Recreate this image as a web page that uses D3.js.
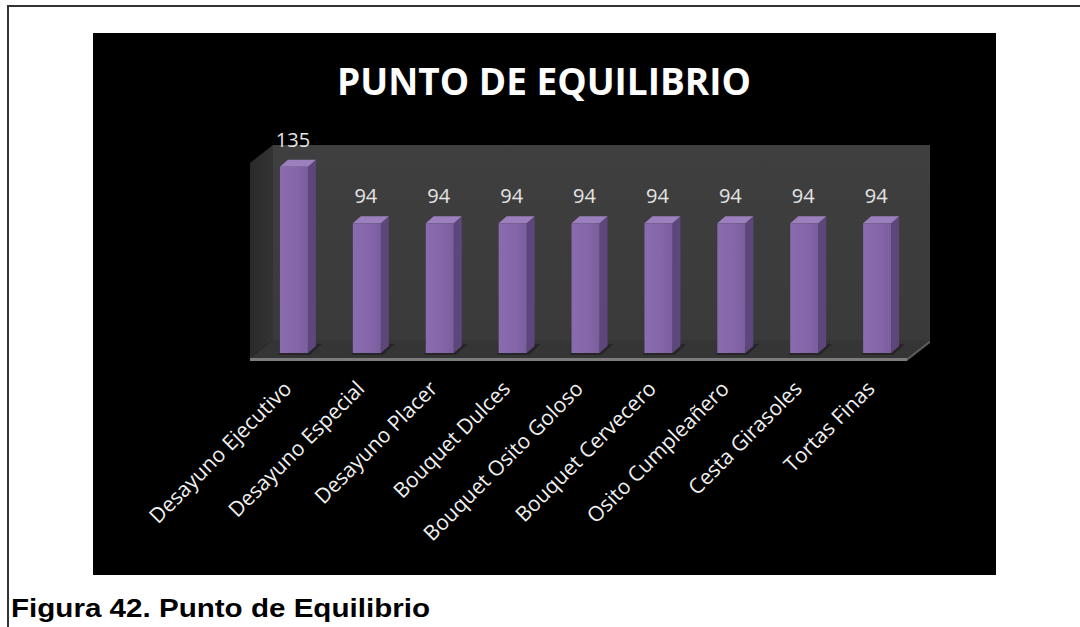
<!DOCTYPE html>
<html>
<head>
<meta charset="utf-8">
<script src="https://cdn.jsdelivr.net/npm/d3@7"></script>
<style>
  html, body { margin: 0; padding: 0; background: #ffffff; }
  svg { display: block; }
</style>
</head>
<body>
<svg id="fig" width="1080" height="627"></svg>
<script>
// Product lines and their break-even quantities
const categories = [
  "Desayuno Ejecutivo", "Desayuno Especial", "Desayuno Placer",
  "Bouquet Dulces", "Bouquet Osito Goloso", "Bouquet Cervecero",
  "Osito Cumpleañero", "Cesta Girasoles", "Tortas Finas"
];
const values = [135, 94, 94, 94, 94, 94, 94, 94, 94];
const axisMax = [150];

const chartTitle = "PUNTO DE EQUILIBRIO";
const caption = "Figura 42. Punto de Equilibrio";

const svg = d3.select("#fig");

// Page frame lines
svg.append("line").attr("x1", 7).attr("x2", 1080).attr("y1", 6).attr("y2", 6)
  .attr("stroke", "#333").attr("stroke-width", 2);
svg.append("line").attr("x1", 8).attr("x2", 8).attr("y1", 5).attr("y2", 627)
  .attr("stroke", "#333").attr("stroke-width", 2);

// Black chart canvas
svg.append("rect").attr("x", 93).attr("y", 33).attr("width", 903).attr("height", 542)
  .attr("fill", "#000");

// Scales
const x = d3.scaleBand().domain(categories).range([257.5, 913.6]).paddingInner(0).paddingOuter(0);
const y = d3.scaleLinear().domain([0, axisMax[0]]).range([353, 146]);

const barW = 28;
const depth = { dx: 23, dy: -18 };   // depth of the plot box
const barDepth = { dx: 8, dy: -7 };  // depth of each column

const frontLeft = x.range()[0] - 7.5;
const frontRight = x.range()[1] - 6.6;
const floorFront = 358;
const floorBack = floorFront + depth.dy;
const wallTop = y(axisMax[0]) - 1;

const defs = svg.append("defs");
const wallGrad = defs.append("linearGradient").attr("id", "wallGrad")
  .attr("x1", 0).attr("y1", 0).attr("x2", 0).attr("y2", 1);
wallGrad.append("stop").attr("offset", 0).attr("stop-color", "#3f3f3f");
wallGrad.append("stop").attr("offset", 1).attr("stop-color", "#3a3a3a");

const sideGrad = defs.append("linearGradient").attr("id", "sideGrad")
  .attr("x1", 0).attr("y1", 0).attr("x2", 1).attr("y2", 0);
sideGrad.append("stop").attr("offset", 0).attr("stop-color", "#2a2a2a");
sideGrad.append("stop").attr("offset", 1).attr("stop-color", "#333333");

const frontGrad = defs.append("linearGradient").attr("id", "barFront")
  .attr("x1", 0).attr("y1", 0).attr("x2", 1).attr("y2", 0);
frontGrad.append("stop").attr("offset", 0).attr("stop-color", "#8a6cae");
frontGrad.append("stop").attr("offset", 0.6).attr("stop-color", "#8566a9");
frontGrad.append("stop").attr("offset", 1).attr("stop-color", "#7b5e9e");

const poly = pts => pts.map(p => p.join(",")).join(" ");

// Back wall
svg.append("polygon")
  .attr("points", poly([
    [frontLeft + depth.dx, wallTop], [frontRight + depth.dx, wallTop],
    [frontRight + depth.dx, floorBack], [frontLeft + depth.dx, floorBack]
  ]))
  .attr("fill", "url(#wallGrad)");

// Left side wall
svg.append("polygon")
  .attr("points", poly([
    [frontLeft, wallTop - depth.dy], [frontLeft + depth.dx, wallTop],
    [frontLeft + depth.dx, floorBack], [frontLeft, floorFront]
  ]))
  .attr("fill", "url(#sideGrad)");

// Floor
svg.append("polygon")
  .attr("points", poly([
    [frontLeft, floorFront], [frontLeft + depth.dx, floorBack],
    [frontRight + depth.dx, floorBack], [frontRight, floorFront]
  ]))
  .attr("fill", "#353535");

// Floor front edge and right edge
svg.append("rect").attr("x", frontLeft).attr("y", floorFront)
  .attr("width", frontRight - frontLeft).attr("height", 3).attr("fill", "#7c7c7c");
svg.append("polygon")
  .attr("points", poly([
    [frontRight, floorFront], [frontRight + depth.dx, floorBack],
    [frontRight + depth.dx, floorBack + 3], [frontRight, floorFront + 3]
  ]))
  .attr("fill", "#5a5a5a");

// Columns
const bars = svg.append("g").selectAll("g.bar")
  .data(categories.map((c, i) => ({ c, v: values[i] })))
  .join("g").attr("class", "bar");

const cx = d => x(d.c) + x.bandwidth() / 2;
const x0 = d => cx(d) - barW / 2;

// soft shadow on the floor
bars.append("polygon")
  .attr("points", d => poly([
    [x0(d) - 2, y(0) + 2], [x0(d) + barW + 2, y(0) + 2],
    [x0(d) + barW + barDepth.dx + 6, y(0) + barDepth.dy - 2], [x0(d) + barDepth.dx, y(0) + barDepth.dy - 2]
  ]))
  .attr("fill", "#262626");

bars.append("polygon") // right side
  .attr("points", d => poly([
    [x0(d) + barW, y(d.v)], [x0(d) + barW + barDepth.dx, y(d.v) + barDepth.dy],
    [x0(d) + barW + barDepth.dx, y(0) + barDepth.dy], [x0(d) + barW, y(0)]
  ]))
  .attr("fill", "#5c467b");

bars.append("polygon") // top
  .attr("points", d => poly([
    [x0(d), y(d.v)], [x0(d) + barDepth.dx, y(d.v) + barDepth.dy],
    [x0(d) + barW + barDepth.dx, y(d.v) + barDepth.dy], [x0(d) + barW, y(d.v)]
  ]))
  .attr("fill", "#9b80bd");

bars.append("rect") // front
  .attr("x", d => x0(d)).attr("y", d => y(d.v))
  .attr("width", barW).attr("height", d => y(0) - y(d.v))
  .attr("fill", "url(#barFront)");

// Value labels
bars.append("text")
  .attr("x", d => cx(d) - 1).attr("y", d => y(d.v) - 20)
  .attr("text-anchor", "middle")
  .attr("font-family", "'Open Sans', sans-serif").attr("font-size", 20)
  .attr("fill", "#e4e4e4")
  .text(d => d.v);

// Category labels
bars.append("text")
  .attr("transform", d => `translate(${cx(d) - 1},390) rotate(-45)`)
  .attr("text-anchor", "end")
  .attr("font-family", "'Open Sans', sans-serif").attr("font-size", 21)
  .attr("fill", "#f0f0f0")
  .text(d => d.c);

// Title
svg.append("text")
  .attr("x", 544).attr("y", 95).attr("text-anchor", "middle")
  .attr("font-family", "'Open Sans', sans-serif").attr("font-weight", "bold")
  .attr("font-size", 37).attr("fill", "#ffffff")
  .text(chartTitle);

// Figure caption
svg.append("text")
  .attr("x", 11).attr("y", 617)
  .attr("font-family", "'Liberation Sans', Arial, sans-serif").attr("font-weight", "bold")
  .attr("font-size", 25).attr("fill", "#000")
  .attr("textLength", 419).attr("lengthAdjust", "spacingAndGlyphs")
  .text(caption);
</script>
</body>
</html>
